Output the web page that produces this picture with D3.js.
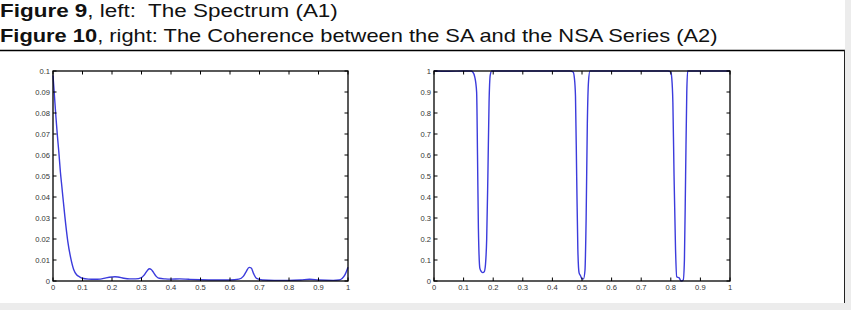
<!DOCTYPE html>
<html>
<head>
<meta charset="utf-8">
<style>
  * { margin: 0; padding: 0; box-sizing: border-box; }
  body { background: #fff; width: 851px; height: 310px; overflow: hidden; }
  svg { display: block; }
</style>
</head>
<body>
<div id="chart"></div>
<script src="https://cdn.jsdelivr.net/npm/d3@7"></script>
<script>
// left panel: spectrum (A1)
const specFreq = [0, 0.005, 0.01, 0.015, 0.02, 0.025, 0.03, 0.04, 0.05, 0.06, 0.07, 0.08, 0.09, 0.1,
  0.12, 0.14, 0.16, 0.18, 0.2, 0.21, 0.22, 0.24, 0.26, 0.28, 0.3, 0.31, 0.32, 0.327, 0.333, 0.34, 0.35,
  0.36, 0.38, 0.4, 0.43, 0.46, 0.5, 0.55, 0.6, 0.63, 0.645, 0.655, 0.665, 0.672, 0.68, 0.69, 0.71,
  0.75, 0.8, 0.84, 0.87, 0.9, 0.95, 0.97, 0.98, 0.99, 1.0];
const specValues = [0.098, 0.088, 0.078, 0.069, 0.061, 0.052, 0.045, 0.031, 0.019, 0.011, 0.0055, 0.003, 0.002, 0.0013,
  0.0009, 0.0008, 0.0009, 0.0015, 0.0019, 0.002, 0.0019, 0.0013, 0.001, 0.001, 0.0016, 0.003, 0.005, 0.0058, 0.0055, 0.0042, 0.0022,
  0.0013, 0.001, 0.0009, 0.001, 0.0008, 0.0006, 0.0005, 0.0005, 0.0009, 0.0022, 0.0045, 0.0065, 0.0062, 0.0035, 0.0012, 0.0005,
  0.0003, 0.0003, 0.0005, 0.0008, 0.0005, 0.0003, 0.0005, 0.0012, 0.003, 0.0065];

// right panel: coherence SA vs NSA (A2)
const cohFreq = [0, 0.05, 0.1, 0.125, 0.131, 0.138, 0.144, 0.147, 0.15, 0.155, 0.16, 0.165, 0.17, 0.174,
  0.178, 0.182, 0.186, 0.19, 0.195, 0.2, 0.3, 0.4, 0.46, 0.47, 0.474, 0.478, 0.482, 0.486, 0.49, 0.495,
  0.5, 0.505, 0.51, 0.514, 0.518, 0.522, 0.527, 0.535, 0.6, 0.7, 0.79, 0.8, 0.803, 0.807, 0.811, 0.816,
  0.82, 0.828, 0.835, 0.842, 0.846, 0.85, 0.854, 0.857, 0.865, 0.9, 1.0];
const cohValues = [1, 0.999, 1, 1, 0.995, 0.97, 0.9, 0.6, 0.25, 0.06, 0.045, 0.04, 0.045, 0.08,
  0.2, 0.5, 0.85, 0.98, 1, 1, 1, 1, 1, 0.995, 0.97, 0.88, 0.5, 0.15, 0.04, 0.025,
  0.01, 0.01, 0.05, 0.3, 0.75, 0.95, 1, 1, 1, 1, 1, 0.995, 0.97, 0.85, 0.5, 0.15,
  0.02, 0.015, 0.0, 0.005, 0.1, 0.5, 0.9, 1, 1, 1, 1];

const xTicks = [0, 0.1, 0.2, 0.3, 0.4, 0.5, 0.6, 0.7, 0.8, 0.9, 1];
const specTicks = [0, 0.01, 0.02, 0.03, 0.04, 0.05, 0.06, 0.07, 0.08, 0.09, 0.1];
const cohTicks = [0, 0.1, 0.2, 0.3, 0.4, 0.5, 0.6, 0.7, 0.8, 0.9, 1];

const W = 851, H = 310;
const svg = d3.select('#chart').append('svg').attr('width', W).attr('height', H);

// page frame: light grey margin right/bottom, rule under captions
svg.append('rect').attr('x', 0).attr('y', 0).attr('width', W).attr('height', H).attr('fill', '#ececec');
svg.append('rect').attr('x', 0).attr('y', 0).attr('width', 845).attr('height', 303).attr('fill', '#fff');
svg.append('line').attr('x1', 0).attr('x2', 845).attr('y1', 50.5).attr('y2', 50.5).attr('stroke', '#000').attr('stroke-width', 1.3);
svg.append('line').attr('x1', 844.5).attr('x2', 844.5).attr('y1', 50).attr('y2', 303).attr('stroke', '#222').attr('stroke-width', 1);

// captions
const captions = [
  { bold: 'Figure 9', rest: ', left:  The Spectrum (A1)', y: 17.5, w: 338 },
  { bold: 'Figure 10', rest: ', right: The Coherence between the SA and the NSA Series (A2)', y: 42, w: 718 }
];
captions.forEach(function(c) {
  const t = svg.append('text').attr('x', 0).attr('y', c.y)
    .attr('font-family', 'Liberation Sans, sans-serif').attr('font-size', 19).attr('fill', '#111')
    .attr('xml:space', 'preserve');
  t.append('tspan').attr('font-weight', 'bold').text(c.bold);
  t.append('tspan').text(c.rest);
  const bw = t.node().getComputedTextLength();
  t.attr('transform', 'scale(' + (c.w / bw) + ',1)');
});

function panel(left, right, xs, ys, yTicks, yFmt) {
  const top = 71, bottom = 281;
  const x = d3.scaleLinear().domain([0, 1]).range([left, right]);
  const y = d3.scaleLinear().domain([yTicks[0], yTicks[yTicks.length - 1]]).range([bottom, top]);
  const g = svg.append('g');
  const tick = 3.5;

  const line = d3.line().x(function(d) { return x(d[0]); }).y(function(d) { return y(d[1]); }).curve(d3.curveMonotoneX);
  g.append('path').datum(xs.map(function(f, i) { return [f, ys[i]]; }))
    .attr('d', line).attr('fill', 'none').attr('stroke', '#3b3bdc').attr('stroke-width', 1.4);

  // inward ticks, matlab style
  xTicks.forEach(function(v) {
    g.append('line').attr('x1', x(v)).attr('x2', x(v)).attr('y1', bottom).attr('y2', bottom - tick).attr('stroke', '#000');
    g.append('line').attr('x1', x(v)).attr('x2', x(v)).attr('y1', top).attr('y2', top + tick).attr('stroke', '#000');
    g.append('text').attr('x', x(v)).attr('y', bottom + 9).attr('text-anchor', 'middle')
      .attr('font-family', 'Liberation Sans, sans-serif').attr('font-size', 7.6).attr('fill', '#333')
      .text(v === 0 || v === 1 ? String(v) : v.toFixed(1));
  });
  yTicks.forEach(function(v) {
    g.append('line').attr('x1', left).attr('x2', left + tick).attr('y1', y(v)).attr('y2', y(v)).attr('stroke', '#000');
    g.append('line').attr('x1', right).attr('x2', right - tick).attr('y1', y(v)).attr('y2', y(v)).attr('stroke', '#000');
    g.append('text').attr('x', left - 3).attr('y', y(v)).attr('text-anchor', 'end').attr('dominant-baseline', 'central')
      .attr('font-family', 'Liberation Sans, sans-serif').attr('font-size', 7.6).attr('fill', '#333')
      .text(yFmt(v));
  });
  g.append('rect').attr('x', left).attr('y', top).attr('width', right - left).attr('height', bottom - top)
    .attr('fill', 'none').attr('stroke', '#000').attr('stroke-width', 1.3);
}

panel(53, 348, specFreq, specValues, specTicks, function(v) { return v === 0 ? '0' : String(+v.toFixed(2)); });
panel(434, 730, cohFreq, cohValues, cohTicks, function(v) { return v === 0 ? '0' : String(+v.toFixed(1)); });
</script>
</body>
</html>
